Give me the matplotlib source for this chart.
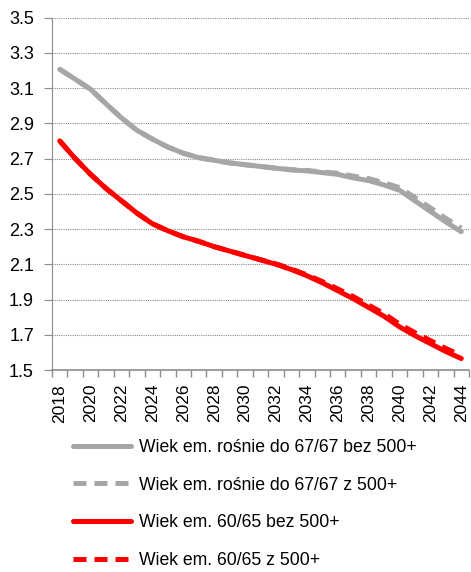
import matplotlib.pyplot as plt
import numpy as np

plt.rcParams['font.family'] = ['Liberation Sans', 'DejaVu Sans']

years = list(range(2018, 2045))

grey_bez = [3.206, 3.15, 3.093, 3.01, 2.93, 2.86, 2.81, 2.765, 2.73, 2.705,
            2.69, 2.675, 2.665, 2.655, 2.645, 2.635, 2.63, 2.62, 2.61, 2.59,
            2.575, 2.55, 2.52, 2.46, 2.40, 2.34, 2.285]
grey_z = [3.206, 3.15, 3.093, 3.01, 2.93, 2.86, 2.81, 2.765, 2.73, 2.705,
          2.69, 2.675, 2.665, 2.655, 2.645, 2.637, 2.632, 2.624, 2.616, 2.60,
          2.586, 2.562, 2.535, 2.478, 2.42, 2.36, 2.305]
red_bez = [2.80, 2.70, 2.61, 2.53, 2.46, 2.39, 2.33, 2.29, 2.256, 2.23,
           2.20, 2.175, 2.15, 2.125, 2.10, 2.07, 2.035, 1.995, 1.95, 1.905,
           1.855, 1.805, 1.745, 1.695, 1.65, 1.605, 1.565]
red_z = [2.80, 2.70, 2.61, 2.53, 2.46, 2.39, 2.33, 2.29, 2.256, 2.23,
         2.20, 2.175, 2.15, 2.126, 2.102, 2.073, 2.04, 2.002, 1.96, 1.917,
         1.868, 1.82, 1.76, 1.712, 1.667, 1.622, 1.582]

labels = ['Wiek em. rośnie do 67/67 bez 500+',
          'Wiek em. rośnie do 67/67 z 500+',
          'Wiek em. 60/65 bez 500+',
          'Wiek em. 60/65 z 500+']

grey = '#A6A6A6'
red = '#FF0000'

fig = plt.figure(figsize=(4.71, 5.72), dpi=100)
ax = fig.add_axes([0.1104, 0.3531, 0.8854, 0.6163])

x = np.arange(len(years))
dash = (0, (2.6, 1.6))
ax.plot(x, grey_bez, color=grey, lw=3.6, solid_capstyle='round', label=labels[0])
ax.plot(x, grey_z, color=grey, lw=3.6, ls=dash, label=labels[1])
ax.plot(x, red_bez, color=red, lw=3.6, solid_capstyle='round', label=labels[2])
ax.plot(x, red_z, color=red, lw=3.6, ls=dash, label=labels[3])

ax.set_xlim(-0.5, len(years) - 0.5)
ax.set_ylim(1.5, 3.5)
ax.set_yticks(np.arange(1.5, 3.51, 0.2))
ax.set_yticklabels([f'{v:.1f}' for v in np.arange(1.5, 3.51, 0.2)], fontsize=13)

ax.set_xticks(x[::2])
ax.set_xticklabels([str(y) for y in years[::2]], rotation=90, fontsize=12.5)
ax.set_xticks(np.arange(-0.5, len(years), 1), minor=True)
ax.tick_params(axis='x', which='major', length=0, pad=10)
ax.tick_params(axis='x', which='minor', length=5, color='#8C8C8C', width=1)
ax.tick_params(axis='y', length=6, color='#8C8C8C', width=0.8, pad=7)

ax.grid(axis='y', color='#8C8C8C', ls=(0, (1, 1)), lw=0.8)
for s in ['top', 'right']:
    ax.spines[s].set_visible(False)
ax.spines['left'].set_color('#8C8C8C')
ax.spines['bottom'].set_color('#8C8C8C')
ax.spines['bottom'].set_linewidth(1.2)

fig.legend(loc='upper left', bbox_to_anchor=(0.14, 0.245), frameon=False,
           fontsize=12.7, handlelength=3.3, handletextpad=0.45, labelspacing=1.17,
           borderaxespad=0)

fig.savefig('out.png', dpi=100)
